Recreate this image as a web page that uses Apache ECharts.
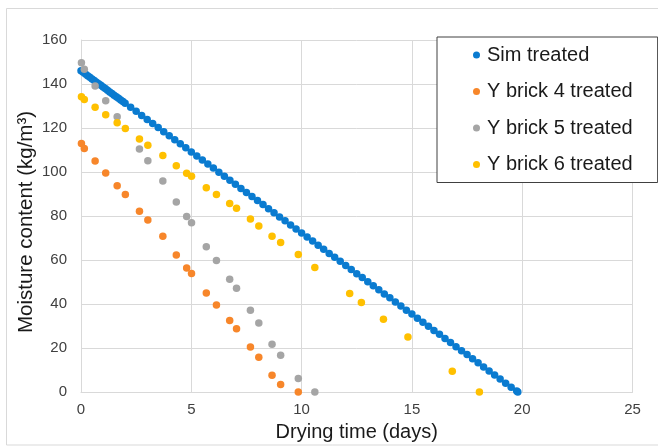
<!DOCTYPE html>
<html>
<head>
<meta charset="utf-8">
<script src="https://cdn.jsdelivr.net/npm/echarts@6/dist/echarts.min.js"></script>
<style>
html,body{margin:0;padding:0;background:#fff;}
#chart{width:658px;height:447px;}
</style>
</head>
<body>
<div id="chart"></div>
<script>
// ---- Data ----
const seriesNames = ["Sim treated", "Y brick 4 treated", "Y brick 5 treated", "Y brick 6 treated"];

const simX = [0,0.1,0.2,0.3,0.4,0.5,0.6,0.7,0.8,0.9,1.0,1.1,1.2,1.3,1.4,1.5,1.6,1.7,1.8,1.9,2.0,
  2.25,2.5,2.75,3.0,3.25,3.5,3.75,4.0,4.25,4.5,4.75,5.0,5.25,5.5,5.75,6.0,6.25,6.5,6.75,7.0,
  7.25,7.5,7.75,8.0,8.25,8.5,8.75,9.0,9.25,9.5,9.75,10.0,10.25,10.5,10.75,11.0,11.25,11.5,11.75,12.0,
  12.25,12.5,12.75,13.0,13.25,13.5,13.75,14.0,14.25,14.5,14.75,15.0,15.25,15.5,15.75,16.0,
  16.25,16.5,16.75,17.0,17.25,17.5,17.75,18.0,18.25,18.5,18.75,19.0,19.25,19.5,19.75,19.8];
const simY = [146.0,145.3,144.5,143.8,143.1,142.3,141.6,140.8,140.1,139.4,138.6,137.9,137.2,136.4,135.7,134.9,134.2,133.5,132.7,132.0,131.3,
  129.4,127.6,125.7,123.9,122.0,120.2,118.3,116.5,114.7,112.8,111.0,109.1,107.3,105.4,103.6,101.8,99.9,98.1,96.2,94.4,
  92.5,90.7,88.9,87.0,85.2,83.3,81.5,79.6,77.8,75.9,74.1,72.3,70.4,68.6,66.7,64.9,63.0,61.2,59.4,57.5,
  55.7,53.8,52.0,50.1,48.3,46.5,44.6,42.8,40.9,39.1,37.2,35.4,33.5,31.7,29.9,28.0,
  26.2,24.3,22.5,20.6,18.8,17.0,15.1,13.3,11.4,9.6,7.7,5.9,4.0,2.2,0.4,0];

const b4X = [0.02,0.15,0.64,1.12,1.64,2.01,2.65,3.03,3.71,4.32,4.79,5.01,5.68,6.14,6.74,7.05,7.68,8.06,8.66,9.05,9.85];
const b4Y = [113.0,110.7,105.0,99.6,93.7,89.8,82.2,78.2,70.8,62.3,56.4,53.9,45.0,39.6,32.5,28.7,20.5,15.8,7.6,3.4,0];

const b5X = [0.02,0.15,0.64,1.12,1.64,2.65,3.03,3.71,4.32,4.79,5.01,5.68,6.14,6.74,7.05,7.68,8.06,8.66,9.05,9.85,10.6];
const b5Y = [149.7,146.7,139.1,132.4,125.1,110.4,105.1,95.9,86.4,79.8,76.9,66.0,59.8,51.3,47.2,37.2,31.4,21.7,16.7,6.1,0];

const b6X = [0.02,0.15,0.64,1.12,1.64,2.01,2.65,3.03,3.71,4.32,4.79,5.01,5.68,6.14,6.74,7.05,7.68,8.06,8.66,9.05,9.85,10.6,12.18,12.71,13.71,14.82,16.83,18.06];
const b6Y = [134.2,133.0,129.4,126.0,122.4,119.8,115.0,112.2,107.5,102.8,99.4,98.1,92.8,89.8,85.7,83.5,78.6,75.5,70.8,68.0,62.5,56.6,44.8,40.7,33.1,25.0,9.4,0];

const xTicks = {min: 0, max: 25, interval: 5};
const yTicks = {min: 0, max: 160, interval: 20};

// ---- Chart ----
const colors = ["#0a7bd0", "#f7862a", "#a5a5a5", "#ffc000"];
const zip = (xs, ys) => xs.map((x, i) => [x, ys[i]]);
const allData = [zip(simX, simY), zip(b4X, b4Y), zip(b5X, b5Y), zip(b6X, b6Y)];

const font = "'Liberation Sans', Arial, sans-serif";
const chart = echarts.init(document.getElementById('chart'), null, {renderer: 'canvas'});
chart.setOption({
  animation: false,
  backgroundColor: '#ffffff',
  color: colors,
  textStyle: {fontFamily: font},
  graphic: [{
    type: 'rect', silent: true, z: -1,
    shape: {x: 6.5, y: 8.5, width: 700, height: 436.5},
    style: {fill: 'none', stroke: '#d9d9d9', lineWidth: 1}
  }],
  grid: {left: 81, right: 25.5, top: 40, bottom: 55, containLabel: false},
  legend: {
    orient: 'vertical',
    left: 437, top: 37,
    padding: [8, 25, 8, 36],
    itemGap: 16.5,
    itemWidth: 7, itemHeight: 7,
    icon: 'circle',
    borderColor: '#404040', borderWidth: 1, borderRadius: 0,
    backgroundColor: '#ffffff',
    textStyle: {fontSize: 20, lineHeight: 20, color: '#1a1a1a', fontFamily: font, padding: [0, 0, 0, 2]},
    data: seriesNames
  },
  xAxis: {
    type: 'value', min: xTicks.min, max: xTicks.max, interval: xTicks.interval,
    name: 'Drying time (days)', nameLocation: 'middle', nameGap: 30, nameMoveOverlap: false,
    nameTextStyle: {fontSize: 20, color: '#1a1a1a', fontFamily: font},
    axisLine: {show: true, lineStyle: {color: '#d9d9d9', width: 1}},
    axisTick: {show: false},
    axisLabel: {fontSize: 15, color: '#404040', margin: 10, fontFamily: font},
    splitLine: {show: true, lineStyle: {color: '#d9d9d9', width: 1}}
  },
  yAxis: {
    type: 'value', min: yTicks.min, max: yTicks.max, interval: yTicks.interval,
    name: 'Moisture content (kg/m³)', nameLocation: 'middle', nameGap: 44, nameRotate: 90, nameMoveOverlap: false,
    nameTextStyle: {fontSize: 20.5, color: '#1a1a1a', fontFamily: font, padding: [0, 12, 0, 0]},
    axisLine: {show: true, lineStyle: {color: '#d9d9d9', width: 1}},
    axisTick: {show: false},
    axisLabel: {fontSize: 15, color: '#404040', margin: 14, fontFamily: font},
    splitLine: {show: true, lineStyle: {color: '#d9d9d9', width: 1}}
  },
  series: seriesNames.map((name, i) => ({
    name: name,
    type: 'scatter',
    symbol: 'circle',
    symbolSize: 7.5,
    data: allData[i],
    itemStyle: {color: colors[i], opacity: 1},
    z: 2 + i
  }))
});
</script>
</body>
</html>
